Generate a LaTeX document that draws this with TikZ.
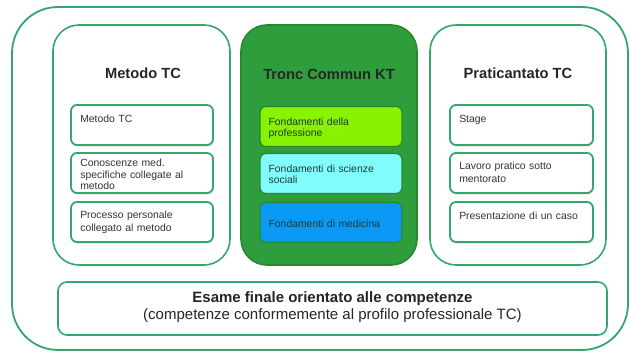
\documentclass[tikz,border=0pt]{standalone}
\usepackage{fontspec}
\setmainfont{Liberation Sans}
\usetikzlibrary{shadows}
\definecolor{tcgreen}{HTML}{34A86C}
\definecolor{kgreen}{HTML}{2E9E3C}
\definecolor{kdark}{HTML}{27882F}
\definecolor{lime}{HTML}{88F200}
\definecolor{lcyan}{HTML}{80FCFC}
\definecolor{mblue}{HTML}{0A99F5}
\definecolor{txt}{HTML}{333333}
\definecolor{ctxt}{HTML}{1E3A3A}
\tikzset{
  panel/.style={draw=tcgreen, line width=1.6pt, rounded corners=26pt, fill=white,
    minimum width=#1, minimum height=240pt, inner sep=0pt},
  kpanel/.style={draw=kdark, line width=1.6pt, rounded corners=26pt, fill=kgreen,
    minimum width=#1, minimum height=240pt, inner sep=0pt},
  subbox/.style={draw=tcgreen, line width=1.8pt, rounded corners=6pt, fill=white,
    minimum width=142pt, minimum height=40pt, inner sep=0pt,
    drop shadow={shadow xshift=0.8pt, shadow yshift=-1.6pt, opacity=0.25}},
  ksub/.style={draw=kdark, line width=1.2pt, rounded corners=6pt, fill=#1,
    minimum width=142pt, minimum height=40pt, inner sep=0pt,
    drop shadow={shadow xshift=0.8pt, shadow yshift=-1.6pt, opacity=0.3}},
  subtext/.style={anchor=north west, inner sep=0pt, text width=128pt, align=left,
    font=\fontsize{10.4}{11.8}\selectfont, text=txt},
  ktext/.style={subtext, text=ctxt},
  ptitle/.style={inner sep=0pt, font=\fontsize{14.7}{17}\selectfont\bfseries, text=black!85},
}
\begin{document}
\begin{tikzpicture}[x=1pt,y=-1pt]
\useasboundingbox (0,0) rectangle (630,352);
\fill[white] (0,0) rectangle (630,352);
% outer frame
\node[draw=tcgreen, line width=1.8pt, rounded corners=46pt, minimum width=616pt, minimum height=343pt, inner sep=0pt] (outer) at (320,178.5) {};
% panels
\node[panel=177pt] (pleft) at (141.5,145) {};
\node[kpanel=176pt] (pmid) at (329,145) {};
\node[panel=176pt] (pright) at (518,145) {};
% titles
\node[ptitle] (tleft) at (143,73) {Metodo TC};
\node[ptitle] (tmid) at (329,74) {Tronc Commun KT};
\node[ptitle] (tright) at (518,73) {Praticantato TC};
% left sub boxes
\node[subbox] (l1) at (142,125) {};
\node[subbox] (l2) at (142,173) {};
\node[subbox] (l3) at (142,222) {};
\node[subtext] (l1t) at ([shift={(10,10.5)}]l1.north west) {Metodo TC};
\node[subtext, font=\fontsize{10.4}{11.3}\selectfont] (l2t) at ([shift={(10,7)}]l2.north west) {Conoscenze med.\\specifiche collegate al\\metodo};
\node[subtext, font=\fontsize{10.4}{12.9}\selectfont] (l3t) at ([shift={(10,10)}]l3.north west) {Processo personale\\collegato al metodo};
% middle sub boxes
\node[ksub=lime] (m1) at (331,126.5) {};
\node[ksub=lcyan] (m2) at (331,173.5) {};
\node[ksub=mblue] (m3) at (331,222.5) {};
\node[ktext] (m1t) at ([shift={(9,11.5)}]m1.north west) {Fondamenti della\\professione};
\node[ktext] (m2t) at ([shift={(9,11.5)}]m2.north west) {Fondamenti di scienze\\sociali};
\node[ktext, anchor=west] (m3t) at ([shift={(9,1)}]m3.west) {Fondamenti di medicina};
% right sub boxes
\node[subbox, minimum width=143pt] (r1) at (521.5,125) {};
\node[subbox, minimum width=143pt] (r2) at (521.5,173) {};
\node[subbox, minimum width=143pt] (r3) at (521.5,222) {};
\node[subtext] (r1t) at ([shift={(10,10.5)}]r1.north west) {Stage};
\node[subtext, font=\fontsize{10.4}{12.3}\selectfont] (r2t) at ([shift={(10,10)}]r2.north west) {Lavoro pratico sotto\\mentorato};
\node[subtext] (r3t) at ([shift={(10,10.5)}]r3.north west) {Presentazione di un caso};
% bottom box
\node[draw=tcgreen, line width=1.6pt, rounded corners=9pt, fill=white, minimum width=549pt, minimum height=53pt, inner sep=0pt] (exam) at (332.5,308.5) {};
\node[align=center, inner sep=0pt, font=\fontsize{15}{17.6}\selectfont, text=black!85] (examt) at ([yshift=1.5pt]exam.center) {\textbf{Esame finale orientato alle competenze}\\(competenze conformemente al profilo professionale TC)};
\end{tikzpicture}
\end{document}
